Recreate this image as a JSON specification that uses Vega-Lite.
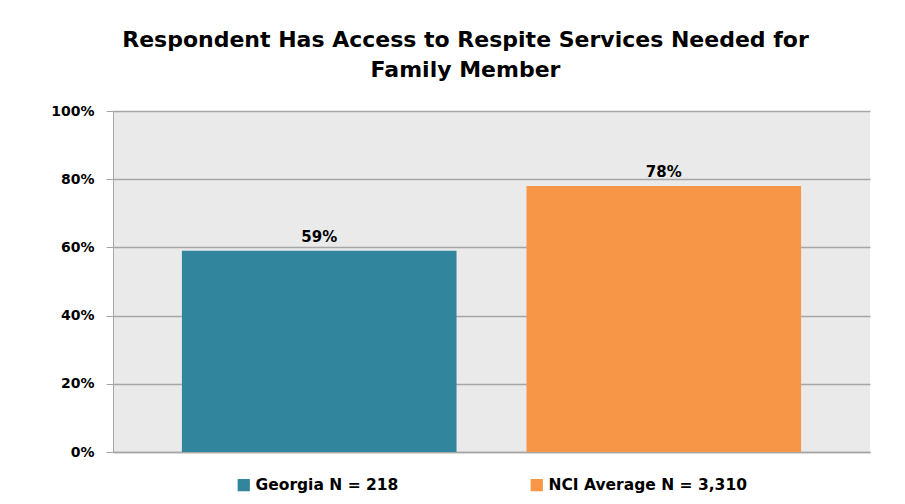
{
  "$schema": "https://vega.github.io/schema/vega-lite/v6.json",
  "width": 757,
  "height": 341,
  "autosize": {"type": "none"},
  "padding": {"left": 113, "top": 111, "right": 35, "bottom": 52},
  "background": "white",
  "title": {
    "text": ["Respondent Has Access to Respite Services Needed for", "Family Member"],
    "font": "DejaVu Sans",
    "fontSize": 22,
    "fontWeight": "bold",
    "color": "#000000",
    "anchor": "middle",
    "dx": -26,
    "offset": 22,
    "lineHeight": 30
  },
  "data": {
    "values": [
      {"group": "Georgia N = 218", "value": 0.59, "label": "59%"},
      {"group": "NCI Average N = 3,310", "value": 0.78, "label": "78%"}
    ]
  },
  "config": {
    "view": {"fill": "#eaeaea", "stroke": null},
    "font": "DejaVu Sans"
  },
  "encoding": {
    "x": {
      "field": "group",
      "type": "nominal",
      "sort": null,
      "scale": {"paddingInner": 0.203, "paddingOuter": 0.2},
      "axis": {"labels": false, "ticks": false, "title": null, "domainColor": "#a6a6a6", "domainWidth": 1.5}
    }
  },
  "layer": [
    {
      "mark": {"type": "bar"},
      "encoding": {
        "y": {
          "field": "value",
          "type": "quantitative",
          "scale": {"domain": [0, 1]},
          "axis": {
            "format": ".0%",
            "values": [0, 0.2, 0.4, 0.6, 0.8, 1],
            "title": null,
            "labelFont": "DejaVu Sans",
            "labelFontSize": 14,
            "labelFontWeight": "bold",
            "labelColor": "#000000",
            "labelPadding": 12,
            "tickSize": 7,
            "tickColor": "#a6a6a6",
            "domainColor": "#a6a6a6",
            "gridColor": "#a6a6a6",
            "gridWidth": 1.3
          }
        },
        "color": {
          "field": "group",
          "type": "nominal",
          "sort": null,
          "scale": {"range": ["#31859c", "#f79646"]},
          "legend": {
            "orient": "none",
            "legendX": 123,
            "legendY": 366,
            "direction": "horizontal",
            "title": null,
            "symbolType": "square",
            "symbolSize": 150,
            "labelFont": "DejaVu Sans",
            "labelFontSize": 15.5,
            "labelFontWeight": "bold",
            "labelColor": "#000000",
            "labelLimit": 400,
            "columnPadding": 130
          }
        }
      }
    },
    {
      "mark": {"type": "text", "dy": -14, "font": "DejaVu Sans", "fontSize": 15, "fontWeight": "bold", "color": "#000000"},
      "encoding": {
        "y": {"field": "value", "type": "quantitative"},
        "text": {"field": "label"}
      }
    }
  ]
}
